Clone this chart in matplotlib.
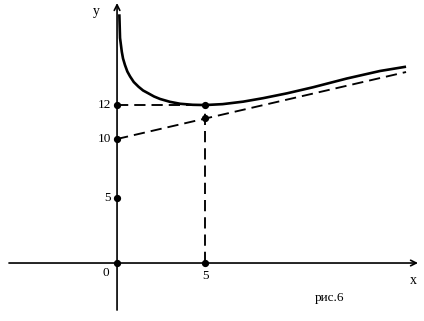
import matplotlib
matplotlib.use("Agg")
import matplotlib.pyplot as plt

# curve points (schematic units)
curve_x = [0.13, 0.17, 0.27, 0.34, 0.45, 0.585, 0.74, 0.95, 1.22, 1.48, 1.78,
           2.10, 2.44, 3.0, 3.58, 4.3, 5.0, 6.0, 7.16, 8.3, 9.65, 11.14,
           13.05, 14.94, 16.42]
curve_y = [19.13, 17.31, 16.25, 15.73, 15.23, 14.73, 14.35, 13.92, 13.56,
           13.27, 13.05, 12.81, 12.62, 12.40, 12.25, 12.17, 12.15, 12.22,
           12.41, 12.68, 13.05, 13.52, 14.19, 14.77, 15.10]

# oblique asymptote (dashed)
asym_x = [0.0, 16.42]
asym_y = [9.54, 14.69]

# marked points on the y axis: positions in the drawing and their labels
ytick_pos = [5.0, 9.54, 12.15]
ytick_lab = ["5", "10", "12"]

x_min = 5.0
y_min = 12.15
y_asym_at_min = 11.12

INK = "#000000"
FONT = "Liberation Serif"


def main():
    fig = plt.figure(figsize=(4.24, 3.21), dpi=100)
    ax = fig.add_axes([0, 0, 1, 1])
    ax.set_xlim(-6.65, 17.44)
    ax.set_ylim(-4.46, 20.23)
    ax.axis("off")

    # axes with arrows
    ax.annotate("", xy=(17.1, 0), xytext=(-6.14, 0),
                arrowprops=dict(arrowstyle="->", color=INK, lw=1.2,
                                shrinkA=0, shrinkB=0))
    ax.annotate("", xy=(0, 20.0), xytext=(0, -3.62),
                arrowprops=dict(arrowstyle="->", color=INK, lw=1.2,
                                shrinkA=0, shrinkB=0))

    # curve
    ax.plot(curve_x, curve_y, color=INK, lw=1.9, solid_joinstyle="round",
            solid_capstyle="butt")

    # dashed helper lines
    dash = dict(color=INK, lw=1.35, dashes=(6, 3.2))
    ax.plot(asym_x, asym_y, **dash)
    ax.plot([0, x_min], [y_min, y_min], **dash)
    ax.plot([x_min, x_min], [0, y_min], **dash)

    # dots
    dots_x = [0] * len(ytick_pos) + [0, x_min, x_min, x_min]
    dots_y = ytick_pos + [0, 0, y_min, y_asym_at_min]
    ax.plot(dots_x, dots_y, "o", color=INK, ms=4.2, zorder=5)

    # labels
    fs = 9.5
    for p, lab in zip(ytick_pos, ytick_lab):
        ax.text(-0.35, p, lab, ha="right", va="center", fontsize=fs,
                family=FONT, color=INK)
    ax.text(-0.63, -0.8, "0", ha="center", va="center", fontsize=fs,
            family=FONT, color=INK)
    ax.text(x_min, -1.0, "5", ha="center", va="center", fontsize=fs,
            family=FONT, color=INK)
    ax.text(-1.19, 19.38, "y", ha="center", va="center", fontsize=10,
            family=FONT, color=INK)
    ax.text(16.82, -1.38, "x", ha="center", va="center", fontsize=10,
            family=FONT, color=INK)
    ax.text(12.1, -2.69, "рис.6", ha="center", va="center", fontsize=fs,
            family=FONT, color=INK)

    fig.savefig("out.png", dpi=100, facecolor="white")


if __name__ == "__main__":
    main()
